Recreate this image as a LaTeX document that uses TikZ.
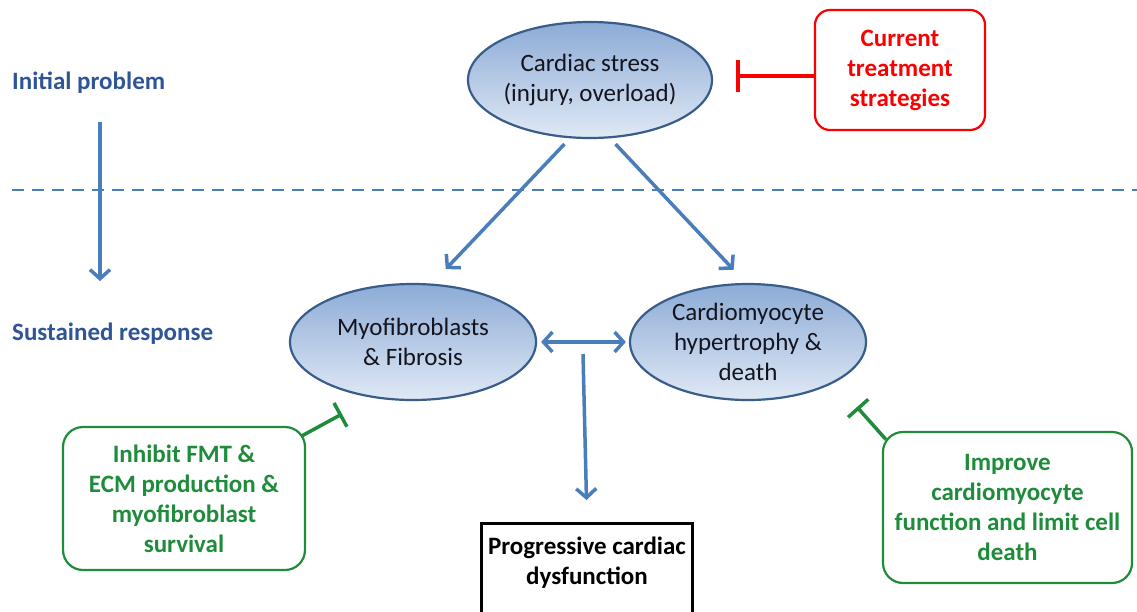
\documentclass[tikz,border=0pt]{standalone}
\usepackage{fontspec}
\setmainfont{Carlito}
\usetikzlibrary{shapes.geometric,arrows.meta,calc}
\definecolor{arrblue}{RGB}{74,126,187}
\definecolor{ellborder}{RGB}{56,93,138}
\definecolor{elltop}{RGB}{140,171,214}
\definecolor{ellbot}{RGB}{224,233,245}
\definecolor{labblue}{RGB}{47,85,151}
\definecolor{grn}{RGB}{30,140,58}
\definecolor{txtdark}{RGB}{20,20,30}
\definecolor{redc}{RGB}{250,0,0}
\tikzset{
  base/.style={font=\fontsize{25}{30}\selectfont, align=center},
  bbase/.style={font=\fontsize{25}{30}\selectfont\bfseries, align=center},
  ell/.style={base, ellipse, draw=ellborder, line width=2.2pt, top color=elltop, bottom color=ellbot, inner sep=-20pt, text=txtdark},
  lab/.style={bbase, text=labblue, inner sep=0pt},
  arr/.style={draw=arrblue, line width=3.5pt, -{Straight Barb[length=9pt,width=20pt]}},
  darr/.style={draw=arrblue, line width=3.5pt, {Straight Barb[length=9pt,width=20pt]}-{Straight Barb[length=9pt,width=20pt]}},
  dline/.style={draw=arrblue, line width=2pt, dash pattern=on 12pt off 8pt},
  redbox/.style={bbase, draw=redc, text=redc, line width=2.2pt, rounded corners=15pt},
  grnbox/.style={bbase, draw=grn, text=grn, line width=2.2pt, rounded corners=20pt},
  rinh/.style={draw=redc, line width=3.5pt, -{Bar[width=32pt]}},
  ginh/.style={draw=grn, line width=3.5pt, -{Bar[width=27pt]}},
}
\begin{document}
\begin{tikzpicture}[x=1pt,y=-1pt]
\useasboundingbox (0,0) rectangle (1137,611);
\fill[white] (0,0) rectangle (1137,611);
\draw[dline] (12,190) -- (1137,190);
\node[lab, anchor=west] (init) at (12,83) {Initial problem};
\node[lab, anchor=west] (sus) at (12,334) {Sustained response};
\coordinate (a1) at (100,122);
\coordinate (a2) at (100,281);
\draw[arr] (a1) -- (a2);
\node[ell, minimum width=244pt, minimum height=116pt] (stress) at (590,80) {Cardiac stress\\(injury, overload)};
\node[ell, minimum width=246pt, minimum height=116pt] (myo) at (413,342) {Myofibroblasts\\\& Fibrosis};
\node[ell, minimum width=236pt, minimum height=116pt] (cardio) at (748,342) {Cardiomyocyte\\hypertrophy \&\\death};
\node[redbox, minimum width=170pt, minimum height=120pt] (red) at (900,70) {Current\\treatment\\strategies};
\node[grnbox, minimum width=242pt, minimum height=143pt] (leftg) at (184,498.5) {Inhibit FMT \&\\ECM production \&\\myofibroblast\\survival};
\node[grnbox, minimum width=249pt, minimum height=151pt] (rightg) at (1007.5,507.5) {Improve\\cardiomyocyte\\function and limit cell\\death};
\node[bbase, draw=black, line width=2.5pt, anchor=north, minimum width=211pt, inner ysep=14pt, text depth=55pt, text=black] (dys) at (587,522) {Progressive cardiac\\dysfunction};
\coordinate (mid) at ($(myo.east)!0.5!(cardio.west)$);
\draw[arr, shorten <=8pt, shorten >=20pt] (stress.251) -- (myo.72);
\draw[arr, shorten <=8pt, shorten >=18pt] (stress.289) -- (cardio.92);
\draw[darr, shorten <=4pt, shorten >=3pt] (myo.east) -- (cardio.west);
\draw[arr, shorten >=22pt] ([yshift=-12pt]mid) -- (dys.north);
\draw[rinh] ([yshift=-6pt]red.west) -- ([xshift=23pt,yshift=4pt]stress.east);
\coordinate (ginL) at (342,414);
\coordinate (ginR) at (857,407);
\draw[ginh, shorten <=-5pt] (leftg.28) -- (ginL);
\draw[ginh, shorten <=-6pt] (rightg.150) -- (ginR);
\end{tikzpicture}
\end{document}
